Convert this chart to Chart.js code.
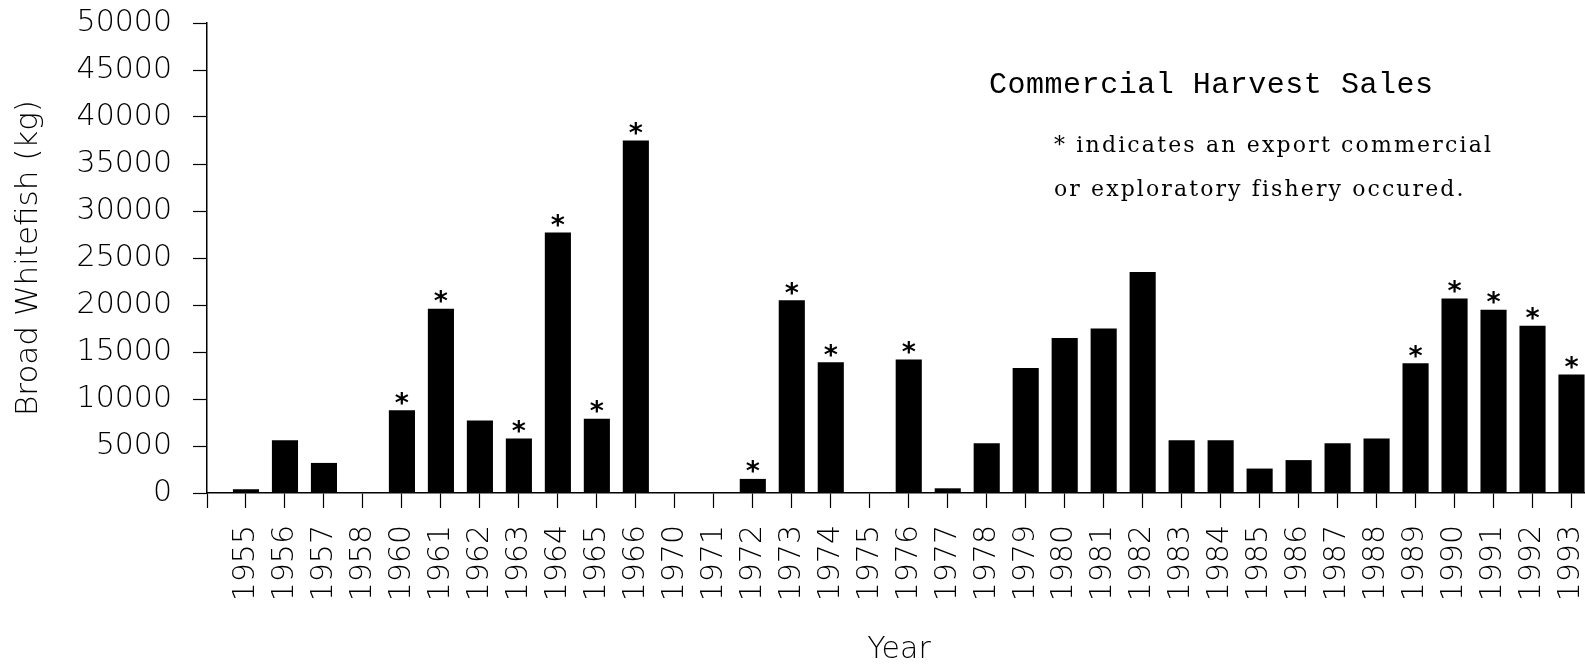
<!DOCTYPE html>
<html>
<head>
<meta charset="utf-8">
<title>Commercial Harvest Sales</title>
<script src="https://cdn.jsdelivr.net/npm/chart.js@4.4.1/dist/chart.umd.min.js"></script>
<style>
  html, body { margin: 0; padding: 0; background: #fff; overflow: hidden; }
  #wrap { width: 1600px; height: 664px; }
</style>
</head>
<body>
<div id="wrap"><canvas id="chart" width="1600" height="664"></canvas></div>
<script>
// Harvest years shown on the axis (gaps are years with no record)
const years = ['1955', '1956', '1957', '1958', '1960', '1961', '1962', '1963', '1964', '1965',
               '1966', '1970', '1971', '1972', '1973', '1974', '1975', '1976', '1977', '1978',
               '1979', '1980', '1981', '1982', '1983', '1984', '1985', '1986', '1987', '1988',
               '1989', '1990', '1991', '1992', '1993'];

// Broad whitefish sold, kg
const harvestKg = [400, 5600, 3200, 0, 8800, 19600, 7700, 5800, 27700, 7900,
                   37500, 0, 0, 1500, 20500, 13900, 0, 14200, 500, 5300,
                   13300, 16500, 17500, 23500, 5600, 5600, 2600, 3500, 5300, 5800,
                   13800, 20700, 19500, 17800, 12600];

// Years with an export commercial or exploratory fishery (marked with *)
const exportYears = ['1960', '1961', '1963', '1964', '1965', '1966', '1972', '1973', '1974',
                     '1976', '1989', '1990', '1991', '1992', '1993'];

// Value axis ticks
const yTickValues = [0, 5000, 10000, 15000, 20000, 25000, 30000, 35000, 40000, 45000, 50000];

const chartTitle = 'Commercial Harvest Sales';
const noteLines = ['* indicates an export commercial', 'or exploratory fishery occured.'];

const axisFont = 'DejaVu Sans';

// Asterisks above bars of export / exploratory years
const exportStars = {
  id: 'exportStars',
  afterDatasetsDraw(chart) {
    const meta = chart.getDatasetMeta(0);
    const ctx = chart.ctx;
    ctx.save();
    ctx.font = 'bold 27px "DejaVu Sans"';
    ctx.fillStyle = '#000';
    ctx.textAlign = 'center';
    ctx.textBaseline = 'alphabetic';
    const m = ctx.measureText('*');
    const mid = (m.actualBoundingBoxAscent - m.actualBoundingBoxDescent) / 2;
    meta.data.forEach((bar, i) => {
      if (!exportYears.includes(years[i])) return;
      ctx.fillText('*', bar.x, bar.y - 12 + mid);
    });
    ctx.restore();
  }
};

// Text stretched to a given width with letter spacing
function drawFitted(ctx, text, x, baseline, width, font) {
  ctx.font = font;
  ctx.letterSpacing = '0px';
  const w = ctx.measureText(text).width;
  const ls = (width - w) / (text.length - 1);
  ctx.letterSpacing = ls + 'px';
  ctx.fillText(text, x, baseline);
  ctx.letterSpacing = '0px';
}

// Heading and footnote inside the plot
const headingNote = {
  id: 'headingNote',
  afterDraw(chart) {
    const ctx = chart.ctx;
    ctx.save();
    ctx.fillStyle = '#000';
    ctx.textAlign = 'left';
    ctx.textBaseline = 'alphabetic';
    drawFitted(ctx, chartTitle, 989, 93, 444, '30px "Liberation Mono"');
    drawFitted(ctx, noteLines[0], 1054, 152, 437, '22px "DejaVu Serif"');
    drawFitted(ctx, noteLines[1], 1054, 196, 409, '22px "DejaVu Serif"');
    ctx.restore();
  }
};

new Chart(document.getElementById('chart'), {
  type: 'bar',
  data: {
    datasets: [{
      label: 'Broad Whitefish (kg)',
      data: harvestKg.map((v, i) => ({ x: i + 1, y: v })),
      backgroundColor: '#000',
      borderWidth: 0,
      barPercentage: 0.67,
      categoryPercentage: 1
    }]
  },
  options: {
    responsive: false,
    animation: false,
    events: [],
    layout: { padding: { top: 23, right: 9, left: 0, bottom: 0 } },
    plugins: {
      legend: { display: false },
      tooltip: { enabled: false },
      title: { display: false }
    },
    scales: {
      x: {
        type: 'linear',
        min: 0,
        max: 35.5,
        offset: false,
        afterFit: (s) => { s.height = 171; s.paddingLeft = 0; s.paddingRight = 0; },
        afterBuildTicks: (s) => {
          s.ticks = [{ value: 0 }].concat(years.map((_, i) => ({ value: i + 1 })));
        },
        grid: {
          display: true, offset: false, drawOnChartArea: false, drawTicks: true,
          tickLength: 15, tickColor: '#000', tickWidth: 1.2
        },
        border: { display: true, color: '#000', width: 1.5 },
        ticks: {
          autoSkip: false, maxRotation: 90, minRotation: 90, padding: 17,
          color: '#000',
          font: { family: axisFont, size: 30, weight: '200' },
          callback: (v) => (Number.isInteger(v) && v >= 1 && v <= years.length) ? years[v - 1] : ''
        },
        title: {
          display: true, text: 'Year', color: '#000',
          font: { family: axisFont, size: 30, weight: '200' },
          padding: { top: 0, bottom: -4 }
        }
      },
      y: {
        min: 0,
        max: 50000,
        afterFit: (s) => { s.width = 207; s.paddingTop = 0; s.paddingBottom = 0; },
        afterBuildTicks: (s) => { s.ticks = yTickValues.map((v) => ({ value: v })); },
        grid: {
          display: true, drawOnChartArea: false, drawTicks: true,
          tickLength: 14, tickColor: '#000', tickWidth: 1.2
        },
        border: { display: true, color: '#000', width: 1.5 },
        ticks: {
          padding: 21, color: '#000',
          font: { family: axisFont, size: 30, weight: '200' },
          callback: (v) => String(v)
        },
        title: {
          display: true, text: 'Broad Whitefish (kg)', color: '#000',
          font: { family: axisFont, size: 31, weight: '200' },
          padding: { top: 10, bottom: 0 }
        }
      }
    }
  },
  plugins: [exportStars, headingNote]
});
</script>
</body>
</html>
